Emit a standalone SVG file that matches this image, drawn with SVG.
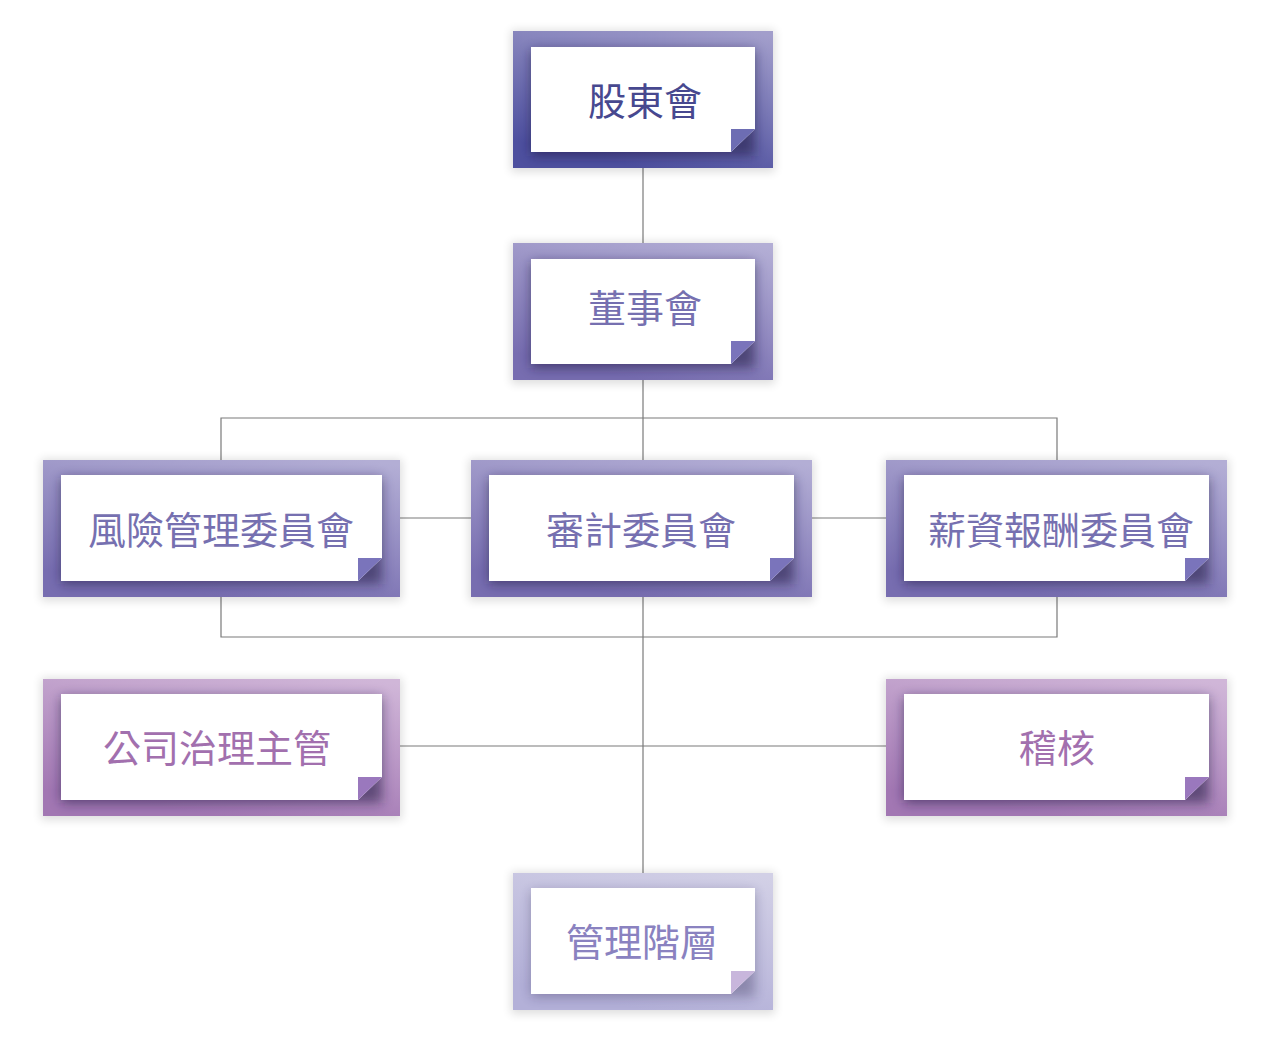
<svg xmlns="http://www.w3.org/2000/svg" width="1271" height="1042" viewBox="0 0 1271 1042">
<style>
.lbl{font-family:"Noto Sans CJK TC","Noto Sans CJK SC",sans-serif;font-size:38px;text-anchor:middle;dominant-baseline:central}
.conn{stroke:#7a7a7a;stroke-width:1.2;fill:none}
.white{fill:#ffffff}
.glow{fill:#000;opacity:0.13;filter:url(#blurOut)}
.ishadow{fill:#1a1840;opacity:0.55;filter:url(#blurIn)}
</style>
<defs>
<filter id="blurOut" x="-20%" y="-30%" width="140%" height="160%"><feGaussianBlur stdDeviation="5"/></filter>
<filter id="blurIn" x="-20%" y="-30%" width="140%" height="160%"><feGaussianBlur stdDeviation="6"/></filter>
<linearGradient id="g1" x1="0.9" y1="0" x2="0.5" y2="1"><stop offset="0" stop-color="#a29ecb"/><stop offset="1" stop-color="#4e509f"/></linearGradient>
<linearGradient id="g2" x1="0.9" y1="0" x2="0.5" y2="1"><stop offset="0" stop-color="#b3aed5"/><stop offset="1" stop-color="#776db0"/></linearGradient>
<linearGradient id="g3" x1="0.9" y1="0" x2="0.5" y2="1"><stop offset="0" stop-color="#d0b6d8"/><stop offset="1" stop-color="#a277b3"/></linearGradient>
<linearGradient id="g4" x1="0.9" y1="0" x2="0.5" y2="1"><stop offset="0" stop-color="#d2d0e6"/><stop offset="1" stop-color="#b3b0d8"/></linearGradient>
<clipPath id="c1"><rect x="513" y="31" width="260" height="137"/></clipPath>
<clipPath id="c2"><rect x="513" y="243" width="260" height="137"/></clipPath>
<clipPath id="c3"><rect x="43" y="460" width="357" height="137"/></clipPath>
<clipPath id="c4"><rect x="471" y="460" width="341" height="137"/></clipPath>
<clipPath id="c5"><rect x="886" y="460" width="341" height="137"/></clipPath>
<clipPath id="c6"><rect x="43" y="679" width="357" height="137"/></clipPath>
<clipPath id="c7"><rect x="886" y="679" width="341" height="137"/></clipPath>
<clipPath id="c8"><rect x="513" y="873" width="260" height="137"/></clipPath>
</defs>
<rect width="1271" height="1042" fill="#ffffff"/>

<g id="connectors">
<line class="conn" x1="643" y1="168" x2="643" y2="243"/>
<line class="conn" x1="643" y1="380" x2="643" y2="873"/>
<polyline class="conn" points="221,460 221,418 1057,418 1057,460"/>
<polyline class="conn" points="221,597 221,637 1057,637 1057,597"/>
<line class="conn" x1="400" y1="518" x2="471" y2="518"/>
<line class="conn" x1="812" y1="518" x2="886" y2="518"/>
<line class="conn" x1="400" y1="746" x2="886" y2="746"/>
</g>

<g id="node-shareholders">
<rect class="glow" x="511" y="30" width="264" height="142"/>
<rect x="513" y="31" width="260" height="137" fill="url(#g1)"/>
<rect class="ishadow" x="531" y="50" width="224" height="106" clip-path="url(#c1)"/>
<polygon class="white" points="531,47 755,47 755,129 731,152 531,152"/>
<polygon points="731,129 755,129 731,152" fill="#6d6db3"/>
<text class="lbl" x="645" y="98" fill="#47488f">股東會</text>
</g>

<g id="node-board">
<rect class="glow" x="511" y="242" width="264" height="142"/>
<rect x="513" y="243" width="260" height="137" fill="url(#g2)"/>
<rect class="ishadow" x="531" y="262" width="224" height="106" clip-path="url(#c2)"/>
<polygon class="white" points="531,259 755,259 755,341 731,364 531,364"/>
<polygon points="731,341 755,341 731,364" fill="#7a74bb"/>
<text class="lbl" x="645" y="305" fill="#7670b0">董事會</text>
</g>

<g id="node-risk">
<rect class="glow" x="41" y="459" width="361" height="142"/>
<rect x="43" y="460" width="357" height="137" fill="url(#g2)"/>
<rect class="ishadow" x="61" y="478" width="321" height="106" clip-path="url(#c3)"/>
<polygon class="white" points="61,475 382,475 382,558 358,581 61,581"/>
<polygon points="358,558 382,558 358,581" fill="#7a74bb"/>
<text class="lbl" x="221" y="527" fill="#7670b0">風險管理委員會</text>
</g>

<g id="node-audit">
<rect class="glow" x="469" y="459" width="345" height="142"/>
<rect x="471" y="460" width="341" height="137" fill="url(#g2)"/>
<rect class="ishadow" x="489" y="478" width="305" height="106" clip-path="url(#c4)"/>
<polygon class="white" points="489,475 794,475 794,558 770,581 489,581"/>
<polygon points="770,558 794,558 770,581" fill="#7a74bb"/>
<text class="lbl" x="641" y="527" fill="#7670b0">審計委員會</text>
</g>

<g id="node-comp">
<rect class="glow" x="884" y="459" width="345" height="142"/>
<rect x="886" y="460" width="341" height="137" fill="url(#g2)"/>
<rect class="ishadow" x="904" y="478" width="305" height="106" clip-path="url(#c5)"/>
<polygon class="white" points="904,475 1209,475 1209,558 1185,581 904,581"/>
<polygon points="1185,558 1209,558 1185,581" fill="#7a74bb"/>
<text class="lbl" x="1061" y="527" fill="#7670b0">薪資報酬委員會</text>
</g>

<g id="node-governance">
<rect class="glow" x="41" y="678" width="361" height="142"/>
<rect x="43" y="679" width="357" height="137" fill="url(#g3)"/>
<rect class="ishadow" x="61" y="697" width="321" height="106" clip-path="url(#c6)"/>
<polygon class="white" points="61,694 382,694 382,777 358,800 61,800"/>
<polygon points="358,777 382,777 358,800" fill="#9a78bd"/>
<text class="lbl" x="217" y="745" fill="#a270ae">公司治理主管</text>
</g>

<g id="node-internal-audit">
<rect class="glow" x="884" y="678" width="345" height="142"/>
<rect x="886" y="679" width="341" height="137" fill="url(#g3)"/>
<rect class="ishadow" x="904" y="697" width="305" height="106" clip-path="url(#c7)"/>
<polygon class="white" points="904,694 1209,694 1209,777 1185,800 904,800"/>
<polygon points="1185,777 1209,777 1185,800" fill="#9a78bd"/>
<text class="lbl" x="1057" y="745" fill="#a270ae">稽核</text>
</g>

<g id="node-management">
<rect class="glow" x="511" y="872" width="264" height="142"/>
<rect x="513" y="873" width="260" height="137" fill="url(#g4)"/>
<rect class="ishadow" x="531" y="891" width="224" height="106" clip-path="url(#c8)" style="opacity:0.3"/>
<polygon class="white" points="531,888 755,888 755,971 731,994 531,994"/>
<polygon points="731,971 755,971 731,994" fill="#c8b6dc"/>
<text class="lbl" x="642" y="939" fill="#8a82c0">管理階層</text>
</g>
</svg>
